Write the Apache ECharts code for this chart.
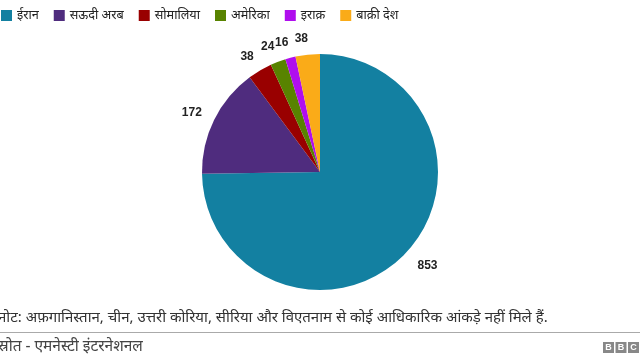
<!DOCTYPE html>
<html><head><meta charset="utf-8">
<script src="https://cdn.jsdelivr.net/npm/echarts@6/dist/echarts.min.js"></script>
<style>html,body{margin:0;padding:0;background:#fff}#c{width:640px;height:360px}</style>
</head><body><div id="c"></div>
<script>
const categories = ['ईरान', 'सऊदी अरब', 'सोमालिया', 'अमेरिका', 'इराक़', 'बाक़ी देश'];
const values = [853, 172, 38, 24, 16, 38];
const colors = ['#1380A1', '#4F2C7E', '#990000', '#588300', '#B00EEE', '#FAAB18'];
const noteText = 'नोट: अफ़गानिस्तान, चीन, उत्तरी कोरिया, सीरिया और विएतनाम से कोई आधिकारिक आंकड़े नहीं मिले हैं.';
const sourceText = 'स्रोत - एमनेस्टी इंटरनेशनल';

const chart = echarts.init(document.getElementById('c'));
const font = '"Noto Sans", "DejaVu Sans", sans-serif';
chart.setOption({
  animation: false,
  color: colors,
  legend: {
    left: -4, top: 4, itemWidth: 11, itemHeight: 11, itemGap: 15,
    icon: 'rect',
    textStyle: {fontSize: 12.7, color: '#222', fontFamily: font},
    data: categories
  },
  series: [{
    type: 'pie',
    center: [320, 172],
    radius: [0, 118],
    startAngle: 90,
    clockwise: true,
    avoidLabelOverlap: false,
    minShowLabelAngle: 0,
    label: {show: true, position: 'outside', formatter: '{c}', fontSize: 12, fontWeight: 'bold', color: '#222', fontFamily: 'Arial, "Liberation Sans", sans-serif'},
    labelLine: {show: false, length: 16, length2: 1},
    labelLayout: function (p) {
      return {hideOverlap: false, moveOverlap: false, dx: p.align === 'right' ? 8 : (p.align === 'left' ? -4 : 0)};
    },
    emphasis: {disabled: true},
    itemStyle: {borderColor: 'transparent', borderWidth: 0},
    data: categories.map((n, i) => ({name: n, value: values[i]}))
  }],
  graphic: [
    {type: 'text', left: -2, top: 310, style: {text: noteText, fontSize: 15, fill: '#333', fontFamily: font}},
    {type: 'rect', shape: {x: 0, y: 332, width: 640, height: 1}, style: {fill: '#aaa'}},
    {type: 'text', left: -2, top: 339, style: {text: sourceText, fontSize: 15.5, fill: '#444', fontFamily: font}},
    {type: 'group', left: 603, top: 342, children: [
      {type: 'rect', shape: {x: 0, y: 0, width: 11, height: 11}, style: {fill: '#888'}},
      {type: 'text', style: {text: 'B', x: 5.5, y: 6, align: 'center', verticalAlign: 'middle', fontSize: 9, fontWeight: 'bold', fill: '#fff', fontFamily: 'Arial'}},
      {type: 'rect', shape: {x: 12.5, y: 0, width: 11, height: 11}, style: {fill: '#888'}},
      {type: 'text', style: {text: 'B', x: 18, y: 6, align: 'center', verticalAlign: 'middle', fontSize: 9, fontWeight: 'bold', fill: '#fff', fontFamily: 'Arial'}},
      {type: 'rect', shape: {x: 25, y: 0, width: 11, height: 11}, style: {fill: '#888'}},
      {type: 'text', style: {text: 'C', x: 30.5, y: 6, align: 'center', verticalAlign: 'middle', fontSize: 9, fontWeight: 'bold', fill: '#fff', fontFamily: 'Arial'}}
    ]}
  ]
});
</script></body></html>
